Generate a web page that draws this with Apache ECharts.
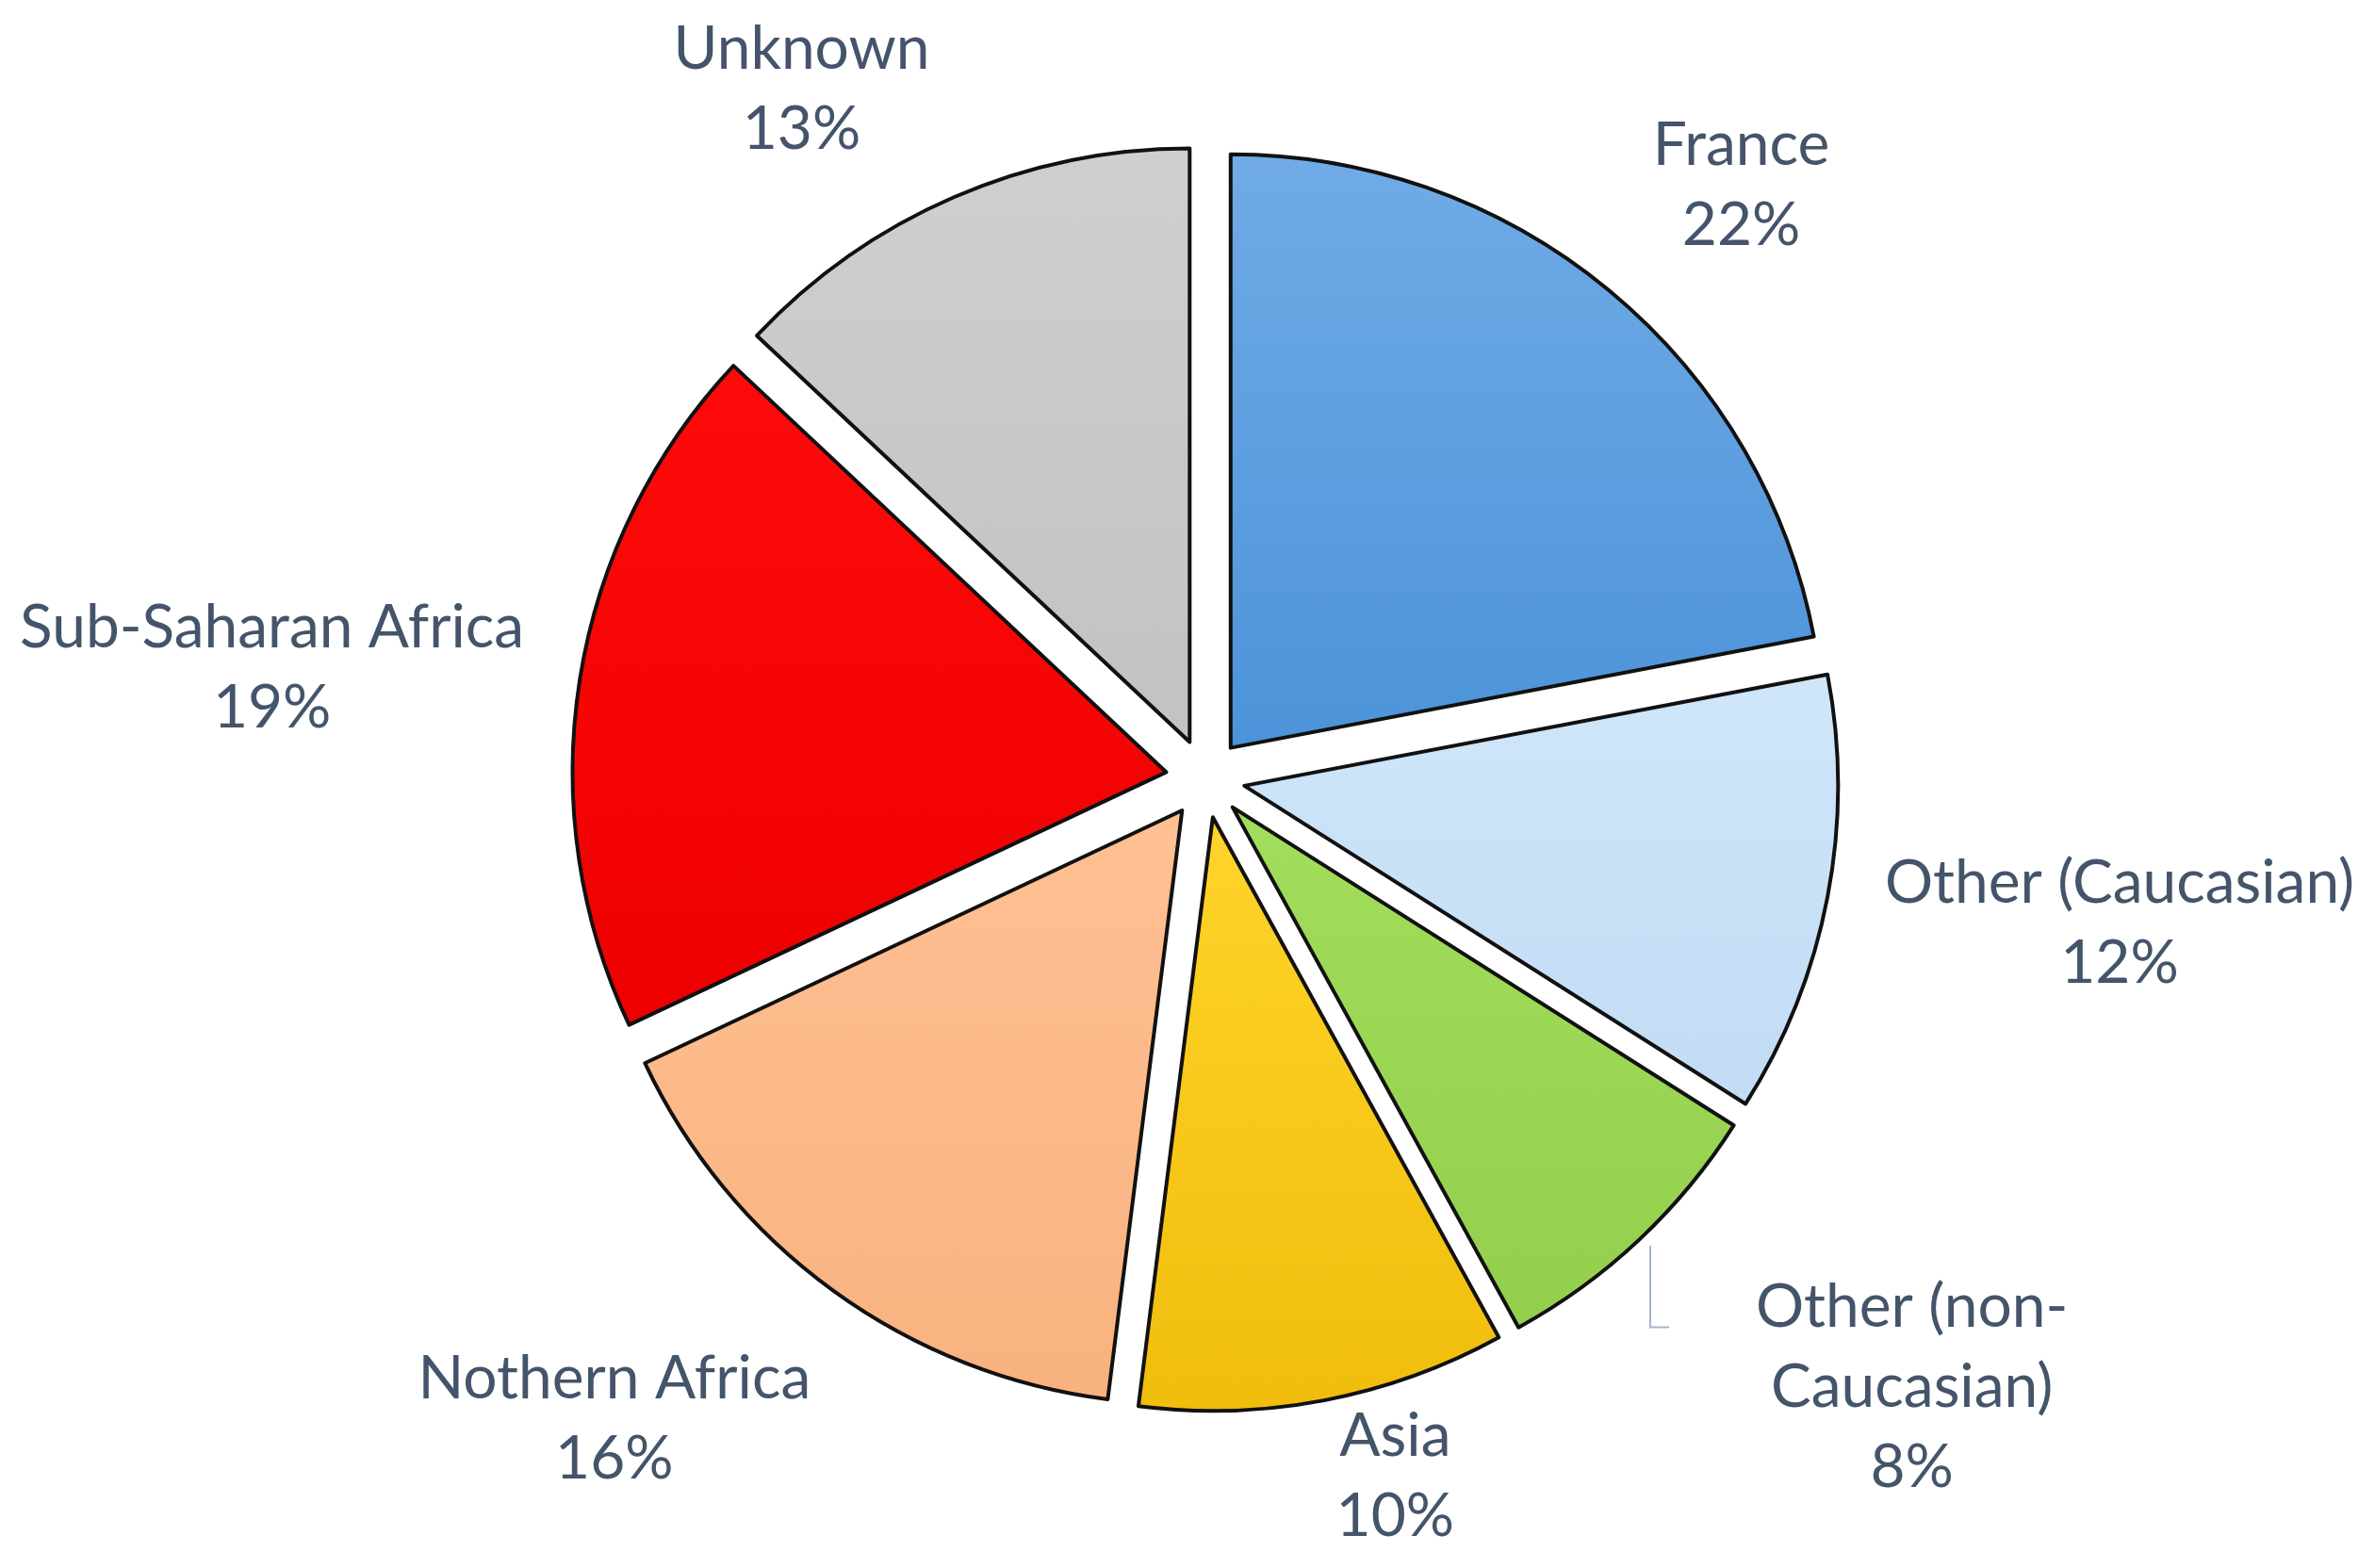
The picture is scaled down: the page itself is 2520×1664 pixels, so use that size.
<!DOCTYPE html>
<html><head><meta charset="utf-8">
<script src="https://cdn.jsdelivr.net/npm/echarts@6/dist/echarts.min.js"></script>
<style>html,body{margin:0;padding:0;background:#fff}#c{width:2520px;height:1664px}</style>
</head><body><div id="c"></div>
<script>
// ---- data ----
const categories = ['France', 'Other (Caucasian)', 'Other (non-Caucasian)', 'Asia', 'Nothern Africa', 'Sub-Saharan Africa', 'Unknown'];
const labelNames = ['France', 'Other (Caucasian)', 'Other (non-\nCaucasian)', 'Asia', 'Nothern Africa', 'Sub-Saharan Africa', 'Unknown'];
const shares = [22, 12, 8, 10, 16, 19, 13];

// ---- styles ----
const colorsTop = ['#70ABE6', '#CFE6FA', '#A2DE5C', '#FFD42A', '#FFC093', '#FF0A0A', '#CFCFCF'];
const colorsBottom = ['#4C93D9', '#C2DCF4', '#93CF4C', '#F0BD0C', '#F8B27F', '#EE0000', '#C2C2C2'];
const labelGaps = [50, 49, 106, -2, 55, 47, 37];      // radial gap between slice edge and label box
const labelNudges = [37, -31, -104, -59, 108, -39, -103]; // sideways nudge of each label
const FONT_SIZE = 64, LINE_H = 85, FONT = 'Lato', TEXT_COLOR = '#44546A';

const CX = 1279, CY = 826, R = 630, OFFSET = 42;
const total = shares.reduce((a, b) => a + b, 0);
function midAngle(i) {
  let before = 0;
  for (let k = 0; k < i; k++) before += shares[k];
  return (before + shares[i] / 2) / total * 2 * Math.PI;
}
const measureCtx = document.createElement('canvas').getContext('2d');
measureCtx.font = FONT_SIZE + 'px ' + FONT;
function labelText(i) { return labelNames[i] + '\n' + Math.round(shares[i] / total * 100) + '%'; }
function labelSize(i) {
  const lines = labelText(i).split('\n');
  let w = 0;
  lines.forEach(l => { w = Math.max(w, measureCtx.measureText(l).width); });
  return {w: w, h: lines.length * LINE_H};
}

// data labels placed outside each exploded slice, along the slice's mid angle
const graphics = [];
categories.forEach((c, i) => {
  const a = midAngle(i);
  const dx = Math.sin(a), dy = -Math.cos(a);
  const px = -dy, py = dx;
  const s = labelSize(i);
  const ex = CX + dx * (R + OFFSET), ey = CY + dy * (R + OFFSET);
  const ext = Math.abs(dx) * s.w / 2 + Math.abs(dy) * s.h / 2;
  const d = labelGaps[i] + ext;
  const x = ex + dx * d + px * labelNudges[i], y = ey + dy * d + py * labelNudges[i];
  graphics.push({
    type: 'text', x: x, y: y, z: 10,
    style: {
      text: labelText(i), fill: TEXT_COLOR, fontFamily: FONT, fontSize: FONT_SIZE,
      lineHeight: LINE_H, align: 'center', verticalAlign: 'middle'
    }
  });
  if (i === 2) {
    const yy = y - s.h / 2 + s.h * 0.25;
    graphics.push({
      type: 'polyline', z: 9,
      shape: {points: [[ex + 12, ey + 6], [ex + 12, yy], [ex + 32, yy]]},
      style: {stroke: '#A9B6C8', lineWidth: 2, fill: null}
    });
  }
});

const chart = echarts.init(document.getElementById('c'), null, {renderer: 'canvas'});
chart.setOption({
  backgroundColor: '#ffffff',
  animation: false,
  graphic: graphics,
  series: [{
    type: 'pie',
    center: [CX, CY],
    radius: [0, R],
    startAngle: 90,
    clockwise: true,
    selectedMode: 'multiple',
    selectedOffset: OFFSET,
    emphasis: {disabled: true},
    select: {itemStyle: {borderColor: '#111', borderWidth: 4}},
    itemStyle: {borderColor: '#111', borderWidth: 4, borderJoin: 'round'},
    label: {show: false},
    labelLine: {show: false},
    data: categories.map((c, i) => ({
      name: c,
      value: shares[i],
      selected: true,
      itemStyle: {
        color: new echarts.graphic.LinearGradient(0, 0, 0, 1, [
          {offset: 0, color: colorsTop[i]},
          {offset: 1, color: colorsBottom[i]}
        ])
      }
    }))
  }]
});
</script>
</body></html>
